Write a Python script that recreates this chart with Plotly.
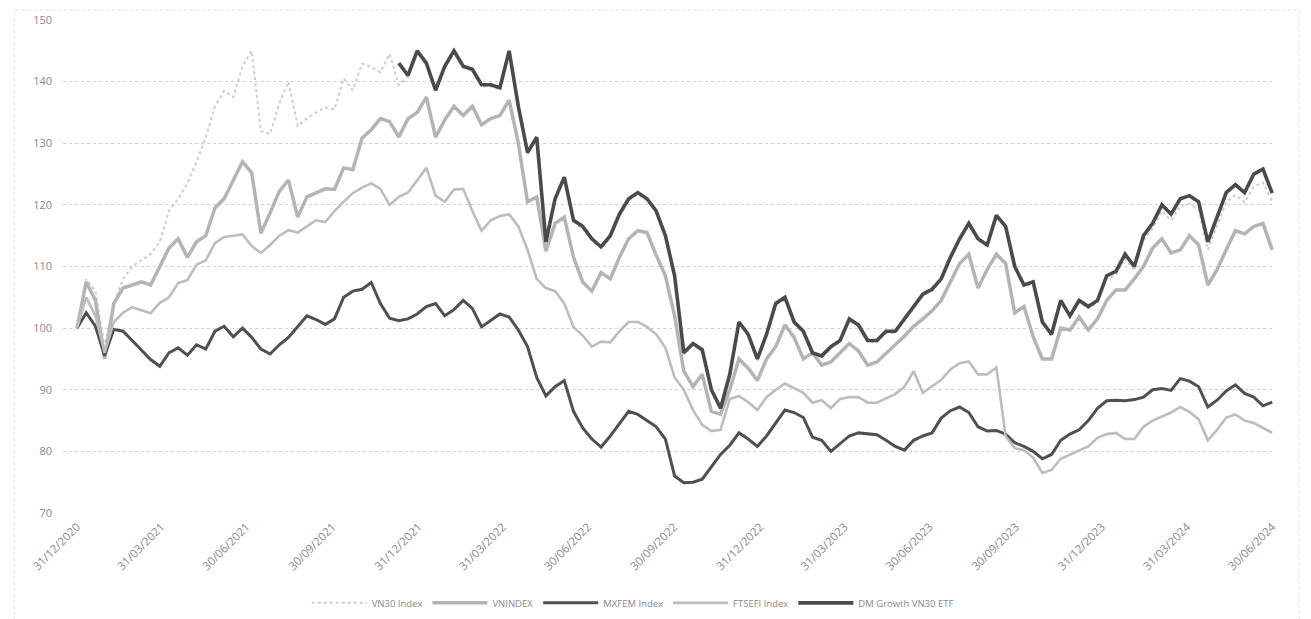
import pandas as pd
import plotly.graph_objects as go

# ---- data ----
start_date = "2020-12-31"
end_date = "2024-06-30"
n_points = 131
etf_start_index = 35

tick_dates = ["2020-12-31", "2021-03-31", "2021-06-30", "2021-09-30", "2021-12-31",
              "2022-03-31", "2022-06-30", "2022-09-30", "2022-12-31", "2023-03-31",
              "2023-06-30", "2023-09-30", "2023-12-31", "2024-03-31", "2024-06-30"]
tick_labels = ["31/12/2020", "31/03/2021", "30/06/2021", "30/09/2021", "31/12/2021",
               "31/03/2022", "30/06/2022", "30/09/2022", "31/12/2022", "31/03/2023",
               "30/06/2023", "30/09/2023", "31/12/2023", "31/03/2024", "30/06/2024"]

vn30_index = [
    100, 108, 106, 97, 104, 108, 110, 111, 112, 114,
    119, 121, 123.5, 127, 131, 136, 138.5, 137.5, 142.5, 145,
    132, 131.5, 136.5, 140, 132.8, 134, 135, 135.8, 135.5, 140.5,
    138.6, 142.9, 142.4, 141.5, 144.5, 139.5,
    140.7, 144.6, 142.7, 138.3, 142.2, 144.7, 142.2, 141.7, 139.2,
    139.2, 138.7, 144.6, 135.7, 128.2, 130.7, 113.8, 120.7, 124.2, 117.2,
    116.2, 114.2, 112.9, 114.7, 118.2, 120.7, 121.7, 120.7, 118.7, 114.7,
    108.2, 95.7, 97.2, 96.2, 89.7, 86.8, 92.2, 100.7, 98.7, 94.7,
    98.7, 103.7, 104.7, 100.7, 99.2, 95.7, 95.2, 96.7, 97.7, 101.2,
    100.2, 97.7, 97.7, 99.2, 99.2, 101.2, 103.2, 105.2, 106.0, 107.7,
    111.2, 114.2, 116.7, 114.2, 113.2, 118.0, 116.2, 109.7, 106.7, 107.2,
    100.7, 98.7, 104.2, 101.7, 104.2, 103.2, 104.1, 108.0, 108.6, 111.3,
    109.3, 114.2, 116.2, 119.0, 117.5, 119.8, 120.2, 119.2, 112.7, 116.6,
    120.5, 121.6, 120.4, 123.0, 123.6, 120.6,
]

vnindex = [
    100, 107.5, 104.5, 95, 104, 106.5, 107, 107.5, 107, 110,
    113, 114.5, 111.5, 114, 115, 119.5, 121, 124, 127, 125.2,
    115.4, 118.7, 122.2, 124, 118, 121.3, 122, 122.6, 122.5, 126,
    125.7, 130.8, 132.2, 134, 133.5, 131, 134, 135, 137.5, 131,
    133.8, 136, 134.5, 136, 133, 134, 134.5, 137, 130, 120.5,
    121.3, 112.5, 117, 118, 111.5, 107.5, 106, 109, 108, 111.5,
    114.5, 115.8, 115.5, 111.8, 108.5, 102, 93, 90.5, 92.5, 86.5,
    86, 90, 95, 93.5, 91.5, 95, 97, 100.5, 98.5, 95,
    96, 94, 94.5, 96, 97.5, 96.3, 94, 94.5, 96, 97.3,
    98.7, 100.3, 101.5, 102.8, 104.5, 107.5, 110.5, 112, 106.5, 109.5,
    112, 110.5, 102.5, 103.5, 98.6, 95, 95, 100, 99.7, 101.8,
    99.7, 101.5, 104.5, 106.2, 106.2, 108, 110, 113, 114.5, 112.2,
    112.7, 115, 113.5, 107, 109.5, 112.7, 115.8, 115.3, 116.5, 117,
    112.7,
]

mxfem_index = [
    100, 102.5, 100.3, 95.5, 99.8, 99.5, 98, 96.4, 94.9, 93.8,
    96, 96.8, 95.6, 97.3, 96.6, 99.5, 100.3, 98.6, 100, 98.5,
    96.6, 95.8, 97.3, 98.5, 100.2, 102, 101.4, 100.6, 101.5, 105,
    106, 106.3, 107.4, 104, 101.6, 101.2, 101.5, 102.3, 103.5, 104,
    102, 103, 104.5, 103.2, 100.2, 101.2, 102.3, 101.8, 99.7, 97,
    92, 89, 90.5, 91.5, 86.5, 83.8, 82, 80.7, 82.5, 84.5,
    86.5, 86, 85, 84, 82, 76, 74.9, 75, 75.5, 77.5,
    79.5, 81, 83, 82, 80.8, 82.5, 84.5, 86.7, 86.3, 85.5,
    82.3, 81.8, 80, 81.2, 82.5, 83, 82.8, 82.7, 81.8, 80.8,
    80.2, 81.8, 82.5, 83, 85.4, 86.6, 87.2, 86.3, 84, 83.3,
    83.4, 82.8, 81.4, 80.8, 80, 78.8, 79.5, 81.8, 82.8, 83.5,
    85, 87, 88.2, 88.3, 88.2, 88.4, 88.8, 90, 90.2, 89.9,
    91.8, 91.4, 90.5, 87.2, 88.3, 89.8, 90.8, 89.4, 88.8, 87.4,
    88,
]

ftsefi_index = [
    100, 105, 102, 96, 101, 102.5, 103.4, 102.9, 102.4, 104.1,
    105, 107.3, 107.8, 110.3, 111, 113.8, 114.8, 115, 115.2, 113.3,
    112.2, 113.5, 115, 115.9, 115.5, 116.5, 117.5, 117.2, 119, 120.5,
    121.9, 122.8, 123.5, 122.6, 120, 121.3, 122, 124, 126, 121.5,
    120.5, 122.5, 122.6, 119, 115.8, 117.5, 118.2, 118.5, 116.5, 112.7,
    108, 106.5, 106, 104, 100.2, 98.8, 97, 97.8, 97.7, 99.5,
    101, 101, 100.2, 99, 96.8, 92, 90, 86.7, 84.3, 83.3,
    83.5, 88.5, 89, 88, 86.7, 88.8, 90, 91, 90.3, 89.5,
    87.9, 88.3, 87, 88.5, 88.8, 88.8, 87.9, 87.9, 88.6, 89.3,
    90.5, 93, 89.5, 90.5, 91.6, 93.3, 94.3, 94.6, 92.5, 92.5,
    93.6, 82.5, 80.5, 80.2, 79, 76.5, 77, 78.8, 79.5, 80.2,
    80.8, 82.2, 82.8, 83, 82, 82, 84, 85, 85.6, 86.3,
    87.2, 86.4, 85.2, 81.8, 83.5, 85.5, 86, 85, 84.6, 83.8,
    83,
]

dm_growth_vn30_etf = [
    143, 141, 145, 143, 138.6, 142.5, 145, 142.5, 142, 139.5,
    139.5, 139, 145, 136, 128.5, 131, 114, 121, 124.5, 117.5,
    116.5, 114.5, 113.2, 115, 118.5, 121, 122, 121, 119, 115,
    108.5, 96, 97.5, 96.5, 90, 87, 92.5, 101, 99, 95,
    99, 104, 105, 101, 99.5, 96, 95.5, 97, 98, 101.5,
    100.5, 98, 98, 99.5, 99.5, 101.5, 103.5, 105.5, 106.3, 108,
    111.5, 114.5, 117, 114.5, 113.5, 118.3, 116.5, 110, 107, 107.5,
    101, 99, 104.5, 102, 104.5, 103.5, 104.5, 108.5, 109.2, 112,
    110, 115, 117, 120, 118.5, 121, 121.5, 120.5, 114, 118,
    122, 123.3, 122, 125, 125.8, 121.9,
]

series_names = ["VN30 Index", "VNINDEX", "MXFEM Index", "FTSEFI Index", "DM Growth VN30 ETF"]

# ---- figure ----
dates = pd.date_range(start_date, end_date, periods=n_points)
etf_dates = dates[etf_start_index:]

fig = go.Figure()
fig.add_trace(go.Scatter(x=dates, y=vn30_index, name=series_names[0], mode="lines",
                         line=dict(color="#cdcdcd", width=2, dash="dot")))
fig.add_trace(go.Scatter(x=dates, y=vnindex, name=series_names[1], mode="lines",
                         line=dict(color="#b4b4b4", width=3.5)))
fig.add_trace(go.Scatter(x=dates, y=mxfem_index, name=series_names[2], mode="lines",
                         line=dict(color="#505050", width=3)))
fig.add_trace(go.Scatter(x=dates, y=ftsefi_index, name=series_names[3], mode="lines",
                         line=dict(color="#bdbdbd", width=2.6)))
fig.add_trace(go.Scatter(x=etf_dates, y=dm_growth_vn30_etf, name=series_names[4], mode="lines",
                         line=dict(color="#4a4a4a", width=3.6)))

font_family = "Open Sans, Lato, sans-serif"

fig.update_layout(
    width=1311, height=619,
    margin=dict(l=55, r=44, t=12, b=114, autoexpand=False),
    paper_bgcolor="white", plot_bgcolor="white",
    font=dict(family=font_family, color="#8a8a8a"),
    showlegend=True,
    legend=dict(orientation="h", x=0.47, xanchor="center",
                yref="container", y=0.039, yanchor="middle",
                font=dict(size=9.5, color="#8a8a8a"), itemwidth=55,
                bgcolor="rgba(0,0,0,0)"),
    xaxis=dict(
        type="date", range=["2020-12-16", "2024-07-03"],
        tickmode="array", tickvals=tick_dates, ticktext=tick_labels,
        tickangle=-45, tickfont=dict(size=11.5, color="#8a8a8a"),
        showgrid=False, zeroline=False, showline=False, ticks="",
        ticklabelstandoff=4, automargin=False,
    ),
    yaxis=dict(
        range=[70, 150], tickmode="linear", tick0=70, dtick=10,
        tickfont=dict(size=11, color="#8a8a8a"),
        showgrid=True, gridcolor="#d2d2d2", griddash="dot", gridwidth=1,
        zeroline=False, showline=False, ticks="", ticklabelstandoff=10,
        automargin=False,
    ),
    shapes=[dict(type="rect", xref="paper", yref="paper",
                 x0=-0.04, x1=1.02, y0=-0.3, y1=1.02,
                 line=dict(color="#e2e2e2", width=1, dash="dot"),
                 fillcolor="rgba(0,0,0,0)", layer="below")],
)

fig.write_html("out.html")
